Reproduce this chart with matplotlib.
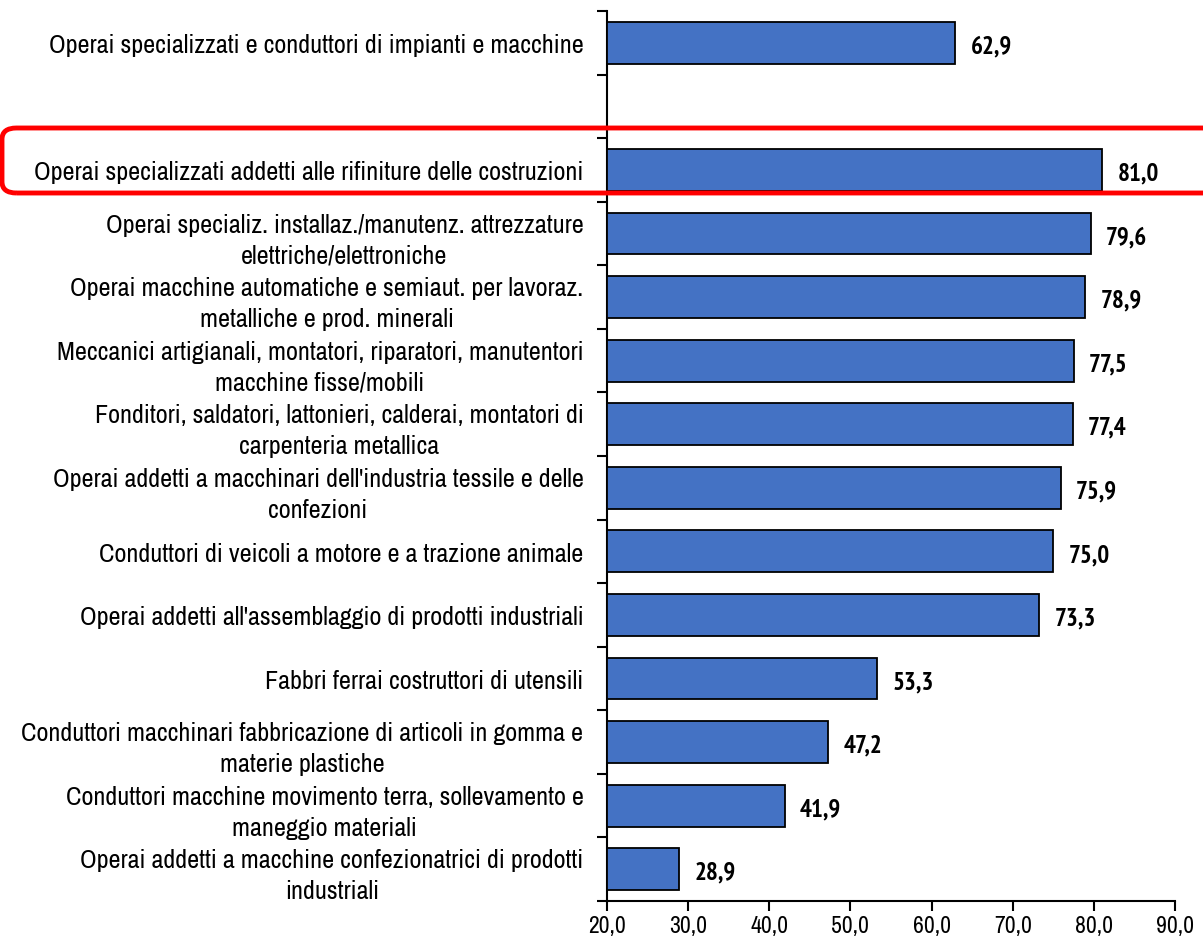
import matplotlib
matplotlib.use("Agg")
import matplotlib.pyplot as plt
from matplotlib.patches import FancyBboxPatch

categories = [
    "Operai specializzati e conduttori di impianti e macchine",
    "",
    "Operai specializzati addetti alle rifiniture delle costruzioni",
    "Operai specializ. installaz./manutenz. attrezzature\nelettriche/elettroniche",
    "Operai macchine automatiche e semiaut. per lavoraz.\nmetalliche e prod. minerali",
    "Meccanici artigianali, montatori, riparatori, manutentori\nmacchine fisse/mobili",
    "Fonditori, saldatori, lattonieri, calderai, montatori di\ncarpenteria metallica",
    "Operai addetti a macchinari dell'industria tessile e delle\nconfezioni",
    "Conduttori di veicoli a motore e a trazione animale",
    "Operai addetti all'assemblaggio di prodotti industriali",
    "Fabbri ferrai costruttori di utensili",
    "Conduttori macchinari fabbricazione di articoli in gomma e\nmaterie plastiche",
    "Conduttori macchine movimento terra, sollevamento e\nmaneggio materiali",
    "Operai addetti a macchine confezionatrici di prodotti\nindustriali",
]
values = [62.9, None, 81.0, 79.6, 78.9, 77.5, 77.4, 75.9, 75.0, 73.3, 53.3, 47.2, 41.9, 28.9]
xticks = [20, 30, 40, 50, 60, 70, 80, 90]

FONT = ['Archivo Narrow', 'Liberation Sans', 'DejaVu Sans']
BOLDFONT = ['PT Sans Narrow', 'Roboto Condensed', 'Liberation Sans', 'DejaVu Sans']
plt.rcParams['font.family'] = FONT

fig = plt.figure(figsize=(12.03, 9.45), dpi=100)
ax = fig.add_axes([607/1203, 1-902/945, (1175-607)/1203, (902-12)/945])

n = len(categories)
ys = list(range(n))
base = 20
for y, v in zip(ys, values):
    if v is None:
        continue
    ax.barh(y, v - base, left=base, height=0.66, color='#4472C4', edgecolor='black', linewidth=1.3, zorder=3)
    ax.text(v + 1.9, y + 0.05, f"{v:.1f}".replace('.', ','), va='center', ha='left',
            fontsize=18, fontweight='bold', family=BOLDFONT)

ax.set_xlim(20, 90)
ax.set_ylim(n - 0.5, -0.5)
ax.set_xticks(xticks)
ax.set_xticklabels([f"{t:.1f}".replace('.', ',') for t in xticks], fontsize=17)
ax.set_yticks(ys)
ax.set_yticklabels(categories, fontsize=18.8, multialignment='center', linespacing=1.42)
ax.set_yticks([i - 0.5 for i in range(n + 1)], minor=True)
ax.tick_params(axis='y', which='major', length=0, pad=17)
ax.tick_params(axis='y', which='minor', length=7, width=1.5, direction='out')
ax.tick_params(axis='x', which='major', length=7, width=1.5, direction='out', pad=3)
for s in ['top', 'right']:
    ax.spines[s].set_visible(False)
ax.spines['left'].set_linewidth(1.5)
ax.spines['bottom'].set_linewidth(1.5)

# Red highlight box
box = FancyBboxPatch((2/1203, 1-194/945), 1215/1203, 65/945,
                     boxstyle="round,pad=0,rounding_size=0.012",
                     transform=fig.transFigure, fill=False, edgecolor='#FF0000',
                     linewidth=3.5, clip_on=False, zorder=10)
fig.patches.append(box)

fig.savefig("out.png", dpi=100)
